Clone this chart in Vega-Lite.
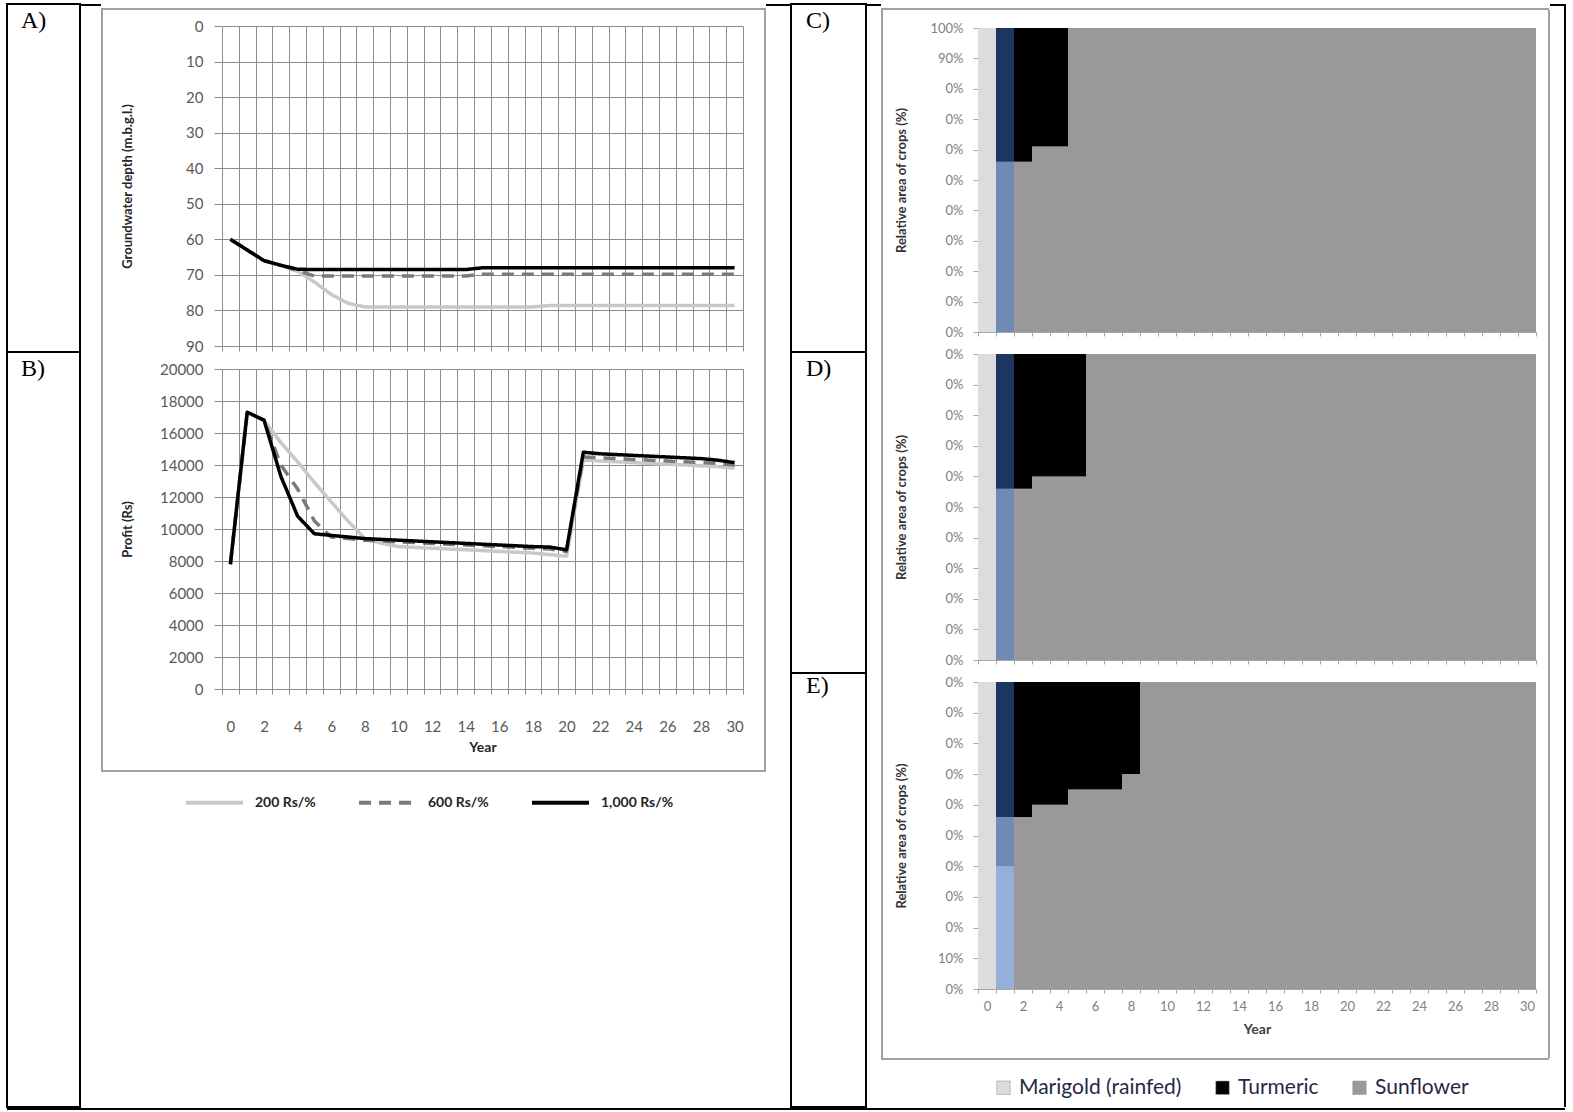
{
  "$schema": "https://vega.github.io/schema/vega-lite/v6.json",
  "padding": {"left": 6, "top": 3, "right": 0, "bottom": 0},
  "background": "white",
  "config": {
    "view": {"stroke": null},
    "font": "Lato",
    "axis": {"labelFont": "Lato", "titleFont": "Lato"},
    "legend": {"labelFont": "Lato"}
  },
  "datasets": {
    "empty": [],
    "hl": [{"Year": 1}],
    "lines": [
      {"Year":0,"Scenario":"200 Rs/%","Depth":60,"Profit":7800},
      {"Year":1,"Scenario":"200 Rs/%","Depth":63,"Profit":17300},
      {"Year":2,"Scenario":"200 Rs/%","Depth":66,"Profit":16800},
      {"Year":3,"Scenario":"200 Rs/%","Depth":67.3,"Profit":15400},
      {"Year":4,"Scenario":"200 Rs/%","Depth":69,"Profit":14200},
      {"Year":5,"Scenario":"200 Rs/%","Depth":72,"Profit":12900},
      {"Year":6,"Scenario":"200 Rs/%","Depth":75.5,"Profit":11700},
      {"Year":7,"Scenario":"200 Rs/%","Depth":78,"Profit":10500},
      {"Year":8,"Scenario":"200 Rs/%","Depth":79,"Profit":9400},
      {"Year":9,"Scenario":"200 Rs/%","Depth":79,"Profit":9100},
      {"Year":10,"Scenario":"200 Rs/%","Depth":79,"Profit":8900},
      {"Year":11,"Scenario":"200 Rs/%","Depth":79,"Profit":8850},
      {"Year":12,"Scenario":"200 Rs/%","Depth":79,"Profit":8800},
      {"Year":13,"Scenario":"200 Rs/%","Depth":79,"Profit":8750},
      {"Year":14,"Scenario":"200 Rs/%","Depth":79,"Profit":8700},
      {"Year":15,"Scenario":"200 Rs/%","Depth":79,"Profit":8650},
      {"Year":16,"Scenario":"200 Rs/%","Depth":79,"Profit":8600},
      {"Year":17,"Scenario":"200 Rs/%","Depth":79,"Profit":8550},
      {"Year":18,"Scenario":"200 Rs/%","Depth":79,"Profit":8500},
      {"Year":19,"Scenario":"200 Rs/%","Depth":78.6,"Profit":8400},
      {"Year":20,"Scenario":"200 Rs/%","Depth":78.6,"Profit":8300},
      {"Year":21,"Scenario":"200 Rs/%","Depth":78.6,"Profit":14300},
      {"Year":22,"Scenario":"200 Rs/%","Depth":78.6,"Profit":14250},
      {"Year":23,"Scenario":"200 Rs/%","Depth":78.6,"Profit":14200},
      {"Year":24,"Scenario":"200 Rs/%","Depth":78.6,"Profit":14150},
      {"Year":25,"Scenario":"200 Rs/%","Depth":78.6,"Profit":14100},
      {"Year":26,"Scenario":"200 Rs/%","Depth":78.6,"Profit":14050},
      {"Year":27,"Scenario":"200 Rs/%","Depth":78.6,"Profit":14000},
      {"Year":28,"Scenario":"200 Rs/%","Depth":78.6,"Profit":13950},
      {"Year":29,"Scenario":"200 Rs/%","Depth":78.6,"Profit":13900},
      {"Year":30,"Scenario":"200 Rs/%","Depth":78.6,"Profit":13800},
      {"Year":0,"Scenario":"600 Rs/%","Depth":60,"Profit":7800},
      {"Year":1,"Scenario":"600 Rs/%","Depth":63,"Profit":17300},
      {"Year":2,"Scenario":"600 Rs/%","Depth":66,"Profit":16800},
      {"Year":3,"Scenario":"600 Rs/%","Depth":67.3,"Profit":14000},
      {"Year":4,"Scenario":"600 Rs/%","Depth":68.8,"Profit":12500},
      {"Year":5,"Scenario":"600 Rs/%","Depth":70.3,"Profit":10500},
      {"Year":6,"Scenario":"600 Rs/%","Depth":70.3,"Profit":9500},
      {"Year":7,"Scenario":"600 Rs/%","Depth":70.3,"Profit":9400},
      {"Year":8,"Scenario":"600 Rs/%","Depth":70.3,"Profit":9300},
      {"Year":9,"Scenario":"600 Rs/%","Depth":70.3,"Profit":9250},
      {"Year":10,"Scenario":"600 Rs/%","Depth":70.3,"Profit":9200},
      {"Year":11,"Scenario":"600 Rs/%","Depth":70.3,"Profit":9150},
      {"Year":12,"Scenario":"600 Rs/%","Depth":70.3,"Profit":9100},
      {"Year":13,"Scenario":"600 Rs/%","Depth":70.3,"Profit":9050},
      {"Year":14,"Scenario":"600 Rs/%","Depth":70.3,"Profit":9000},
      {"Year":15,"Scenario":"600 Rs/%","Depth":69.8,"Profit":8950},
      {"Year":16,"Scenario":"600 Rs/%","Depth":69.8,"Profit":8900},
      {"Year":17,"Scenario":"600 Rs/%","Depth":69.8,"Profit":8850},
      {"Year":18,"Scenario":"600 Rs/%","Depth":69.8,"Profit":8800},
      {"Year":19,"Scenario":"600 Rs/%","Depth":69.8,"Profit":8750},
      {"Year":20,"Scenario":"600 Rs/%","Depth":69.8,"Profit":8600},
      {"Year":21,"Scenario":"600 Rs/%","Depth":69.8,"Profit":14500},
      {"Year":22,"Scenario":"600 Rs/%","Depth":69.8,"Profit":14450},
      {"Year":23,"Scenario":"600 Rs/%","Depth":69.8,"Profit":14400},
      {"Year":24,"Scenario":"600 Rs/%","Depth":69.8,"Profit":14350},
      {"Year":25,"Scenario":"600 Rs/%","Depth":69.8,"Profit":14300},
      {"Year":26,"Scenario":"600 Rs/%","Depth":69.8,"Profit":14250},
      {"Year":27,"Scenario":"600 Rs/%","Depth":69.8,"Profit":14200},
      {"Year":28,"Scenario":"600 Rs/%","Depth":69.8,"Profit":14150},
      {"Year":29,"Scenario":"600 Rs/%","Depth":69.8,"Profit":14100},
      {"Year":30,"Scenario":"600 Rs/%","Depth":69.8,"Profit":14000},
      {"Year":0,"Scenario":"1,000 Rs/%","Depth":60,"Profit":7800},
      {"Year":1,"Scenario":"1,000 Rs/%","Depth":63,"Profit":17300},
      {"Year":2,"Scenario":"1,000 Rs/%","Depth":66,"Profit":16800},
      {"Year":3,"Scenario":"1,000 Rs/%","Depth":67.3,"Profit":13300},
      {"Year":4,"Scenario":"1,000 Rs/%","Depth":68.4,"Profit":10800},
      {"Year":5,"Scenario":"1,000 Rs/%","Depth":68.5,"Profit":9700},
      {"Year":6,"Scenario":"1,000 Rs/%","Depth":68.5,"Profit":9600},
      {"Year":7,"Scenario":"1,000 Rs/%","Depth":68.5,"Profit":9500},
      {"Year":8,"Scenario":"1,000 Rs/%","Depth":68.5,"Profit":9400},
      {"Year":9,"Scenario":"1,000 Rs/%","Depth":68.5,"Profit":9350},
      {"Year":10,"Scenario":"1,000 Rs/%","Depth":68.5,"Profit":9300},
      {"Year":11,"Scenario":"1,000 Rs/%","Depth":68.5,"Profit":9250},
      {"Year":12,"Scenario":"1,000 Rs/%","Depth":68.5,"Profit":9200},
      {"Year":13,"Scenario":"1,000 Rs/%","Depth":68.5,"Profit":9150},
      {"Year":14,"Scenario":"1,000 Rs/%","Depth":68.5,"Profit":9100},
      {"Year":15,"Scenario":"1,000 Rs/%","Depth":68,"Profit":9050},
      {"Year":16,"Scenario":"1,000 Rs/%","Depth":68,"Profit":9000},
      {"Year":17,"Scenario":"1,000 Rs/%","Depth":68,"Profit":8950},
      {"Year":18,"Scenario":"1,000 Rs/%","Depth":68,"Profit":8900},
      {"Year":19,"Scenario":"1,000 Rs/%","Depth":68,"Profit":8870},
      {"Year":20,"Scenario":"1,000 Rs/%","Depth":68,"Profit":8700},
      {"Year":21,"Scenario":"1,000 Rs/%","Depth":68,"Profit":14800},
      {"Year":22,"Scenario":"1,000 Rs/%","Depth":68,"Profit":14700},
      {"Year":23,"Scenario":"1,000 Rs/%","Depth":68,"Profit":14650},
      {"Year":24,"Scenario":"1,000 Rs/%","Depth":68,"Profit":14600},
      {"Year":25,"Scenario":"1,000 Rs/%","Depth":68,"Profit":14550},
      {"Year":26,"Scenario":"1,000 Rs/%","Depth":68,"Profit":14500},
      {"Year":27,"Scenario":"1,000 Rs/%","Depth":68,"Profit":14450},
      {"Year":28,"Scenario":"1,000 Rs/%","Depth":68,"Profit":14400},
      {"Year":29,"Scenario":"1,000 Rs/%","Depth":68,"Profit":14300},
      {"Year":30,"Scenario":"1,000 Rs/%","Depth":68,"Profit":14150}
    ],
    "cropsC": [
      {"Year":0,"Crop":"Marigold (rainfed)","Share":1},
      {"Year":1,"Crop":"Sunflower","Share":0.56},{"Year":1,"Crop":"Turmeric","Share":0.44},
      {"Year":2,"Crop":"Sunflower","Share":0.56},{"Year":2,"Crop":"Turmeric","Share":0.44},
      {"Year":3,"Crop":"Sunflower","Share":0.61},{"Year":3,"Crop":"Turmeric","Share":0.39},
      {"Year":4,"Crop":"Sunflower","Share":0.61},{"Year":4,"Crop":"Turmeric","Share":0.39},
      {"Year":5,"Crop":"Sunflower","Share":1},{"Year":6,"Crop":"Sunflower","Share":1},
      {"Year":7,"Crop":"Sunflower","Share":1},{"Year":8,"Crop":"Sunflower","Share":1},
      {"Year":9,"Crop":"Sunflower","Share":1},{"Year":10,"Crop":"Sunflower","Share":1},
      {"Year":11,"Crop":"Sunflower","Share":1},{"Year":12,"Crop":"Sunflower","Share":1},
      {"Year":13,"Crop":"Sunflower","Share":1},{"Year":14,"Crop":"Sunflower","Share":1},
      {"Year":15,"Crop":"Sunflower","Share":1},{"Year":16,"Crop":"Sunflower","Share":1},
      {"Year":17,"Crop":"Sunflower","Share":1},{"Year":18,"Crop":"Sunflower","Share":1},
      {"Year":19,"Crop":"Sunflower","Share":1},{"Year":20,"Crop":"Sunflower","Share":1},
      {"Year":21,"Crop":"Sunflower","Share":1},{"Year":22,"Crop":"Sunflower","Share":1},
      {"Year":23,"Crop":"Sunflower","Share":1},{"Year":24,"Crop":"Sunflower","Share":1},
      {"Year":25,"Crop":"Sunflower","Share":1},{"Year":26,"Crop":"Sunflower","Share":1},
      {"Year":27,"Crop":"Sunflower","Share":1},{"Year":28,"Crop":"Sunflower","Share":1},
      {"Year":29,"Crop":"Sunflower","Share":1},{"Year":30,"Crop":"Sunflower","Share":1}
    ],
    "cropsD": [
      {"Year":0,"Crop":"Marigold (rainfed)","Share":1},
      {"Year":1,"Crop":"Sunflower","Share":0.56},{"Year":1,"Crop":"Turmeric","Share":0.44},
      {"Year":2,"Crop":"Sunflower","Share":0.56},{"Year":2,"Crop":"Turmeric","Share":0.44},
      {"Year":3,"Crop":"Sunflower","Share":0.6},{"Year":3,"Crop":"Turmeric","Share":0.4},
      {"Year":4,"Crop":"Sunflower","Share":0.6},{"Year":4,"Crop":"Turmeric","Share":0.4},
      {"Year":5,"Crop":"Sunflower","Share":0.6},{"Year":5,"Crop":"Turmeric","Share":0.4},
      {"Year":6,"Crop":"Sunflower","Share":1},
      {"Year":7,"Crop":"Sunflower","Share":1},{"Year":8,"Crop":"Sunflower","Share":1},
      {"Year":9,"Crop":"Sunflower","Share":1},{"Year":10,"Crop":"Sunflower","Share":1},
      {"Year":11,"Crop":"Sunflower","Share":1},{"Year":12,"Crop":"Sunflower","Share":1},
      {"Year":13,"Crop":"Sunflower","Share":1},{"Year":14,"Crop":"Sunflower","Share":1},
      {"Year":15,"Crop":"Sunflower","Share":1},{"Year":16,"Crop":"Sunflower","Share":1},
      {"Year":17,"Crop":"Sunflower","Share":1},{"Year":18,"Crop":"Sunflower","Share":1},
      {"Year":19,"Crop":"Sunflower","Share":1},{"Year":20,"Crop":"Sunflower","Share":1},
      {"Year":21,"Crop":"Sunflower","Share":1},{"Year":22,"Crop":"Sunflower","Share":1},
      {"Year":23,"Crop":"Sunflower","Share":1},{"Year":24,"Crop":"Sunflower","Share":1},
      {"Year":25,"Crop":"Sunflower","Share":1},{"Year":26,"Crop":"Sunflower","Share":1},
      {"Year":27,"Crop":"Sunflower","Share":1},{"Year":28,"Crop":"Sunflower","Share":1},
      {"Year":29,"Crop":"Sunflower","Share":1},{"Year":30,"Crop":"Sunflower","Share":1}
    ],
    "cropsE": [
      {"Year":0,"Crop":"Marigold (rainfed)","Share":1},
      {"Year":1,"Crop":"Marigold (rainfed)","Share":0.4},{"Year":1,"Crop":"Sunflower","Share":0.16},{"Year":1,"Crop":"Turmeric","Share":0.44},
      {"Year":2,"Crop":"Sunflower","Share":0.56},{"Year":2,"Crop":"Turmeric","Share":0.44},
      {"Year":3,"Crop":"Sunflower","Share":0.6},{"Year":3,"Crop":"Turmeric","Share":0.4},
      {"Year":4,"Crop":"Sunflower","Share":0.6},{"Year":4,"Crop":"Turmeric","Share":0.4},
      {"Year":5,"Crop":"Sunflower","Share":0.65},{"Year":5,"Crop":"Turmeric","Share":0.35},
      {"Year":6,"Crop":"Sunflower","Share":0.65},{"Year":6,"Crop":"Turmeric","Share":0.35},
      {"Year":7,"Crop":"Sunflower","Share":0.65},{"Year":7,"Crop":"Turmeric","Share":0.35},
      {"Year":8,"Crop":"Sunflower","Share":0.7},{"Year":8,"Crop":"Turmeric","Share":0.3},
      {"Year":9,"Crop":"Sunflower","Share":1},{"Year":10,"Crop":"Sunflower","Share":1},
      {"Year":11,"Crop":"Sunflower","Share":1},{"Year":12,"Crop":"Sunflower","Share":1},
      {"Year":13,"Crop":"Sunflower","Share":1},{"Year":14,"Crop":"Sunflower","Share":1},
      {"Year":15,"Crop":"Sunflower","Share":1},{"Year":16,"Crop":"Sunflower","Share":1},
      {"Year":17,"Crop":"Sunflower","Share":1},{"Year":18,"Crop":"Sunflower","Share":1},
      {"Year":19,"Crop":"Sunflower","Share":1},{"Year":20,"Crop":"Sunflower","Share":1},
      {"Year":21,"Crop":"Sunflower","Share":1},{"Year":22,"Crop":"Sunflower","Share":1},
      {"Year":23,"Crop":"Sunflower","Share":1},{"Year":24,"Crop":"Sunflower","Share":1},
      {"Year":25,"Crop":"Sunflower","Share":1},{"Year":26,"Crop":"Sunflower","Share":1},
      {"Year":27,"Crop":"Sunflower","Share":1},{"Year":28,"Crop":"Sunflower","Share":1},
      {"Year":29,"Crop":"Sunflower","Share":1},{"Year":30,"Crop":"Sunflower","Share":1}
    ]
  },
  "vconcat": [
    {
      "hconcat": [
        {
          "vconcat": [
            {"width": 73, "height": 348, "view": {"stroke": "#000000", "strokeWidth": 2}, "data": {"name": "empty"}, "mark": "text",
             "title": {"text": "A)", "anchor": "start", "frame": "group", "orient": "top", "offset": -48, "dx": 14, "baseline": "alphabetic", "font": "Liberation Serif", "fontSize": 24, "fontWeight": "normal", "color": "#000000"}},
            {"width": 73, "height": 755, "view": {"stroke": "#000000", "strokeWidth": 2}, "data": {"name": "empty"}, "mark": "text",
             "title": {"text": "B)", "anchor": "start", "frame": "group", "orient": "top", "offset": -48, "dx": 14, "baseline": "alphabetic", "font": "Liberation Serif", "fontSize": 24, "fontWeight": "normal", "color": "#000000"}}
          ],
          "spacing": 0, "bounds": "flush"
        },
        {"width": 20, "height": 2, "view": {"fill": "#000000"}, "data": {"name": "empty"}, "mark": "text"},
        {
          "vconcat": [
            {"width": 665, "height": 4, "data": {"name": "empty"}, "mark": "text"},
            {"width": 665, "height": 2, "view": {"fill": "#a0a0a0"}, "data": {"name": "empty"}, "mark": "text"},
            {
              "hconcat": [
                {"width": 2, "height": 760, "view": {"fill": "#a0a0a0"}, "data": {"name": "empty"}, "mark": "text"},
                {"width": 18, "height": 2, "data": {"name": "empty"}, "mark": "text"},
                {
                  "vconcat": [
                    {"width": 521, "height": 1, "data": {"name": "empty"}, "mark": "text"},
                    {
                      "width": 521, "height": 320,
                      "data": {"name": "lines"},
                      "mark": {"type": "line", "strokeWidth": 3.5, "strokeJoin": "round"},
                      "encoding": {
                        "x": {"field": "Year", "type": "quantitative", "scale": {"domain": [-0.5, 30.5], "nice": false, "zero": false},
                          "axis": {"values": [-0.5,0,0.5,1,1.5,2,2.5,3,3.5,4,4.5,5,5.5,6,6.5,7,7.5,8,8.5,9,9.5,10,10.5,11,11.5,12,12.5,13,13.5,14,14.5,15,15.5,16,16.5,17,17.5,18,18.5,19,19.5,20,20.5,21,21.5,22,22.5,23,23.5,24,24.5,25,25.5,26,26.5,27,27.5,28,28.5,29,29.5,30,30.5],
                            "labels": false, "title": null, "domain": false, "grid": true, "gridColor": "#8c8c8c",
                            "gridOpacity": {"condition": {"test": "datum.value % 1 !== 0", "value": 1}, "value": 0},
                            "ticks": true, "tickSize": 5, "tickColor": "#8c8c8c",
                            "tickOpacity": {"condition": {"test": "datum.value % 1 !== 0", "value": 1}, "value": 0}}},
                        "y": {"field": "Depth", "type": "quantitative", "scale": {"domain": [0, 90], "reverse": true, "nice": false, "zero": false},
                          "axis": {"values": [0,10,20,30,40,50,60,70,80,90], "format": "d", "title": "Groundwater depth (m.b.g.l.)",
                            "grid": true, "gridColor": "#8c8c8c", "domain": false, "ticks": true, "tickSize": 8, "tickColor": "#8c8c8c",
                            "labelPadding": 11, "labelFontSize": 15, "labelColor": "#595959", "labelOverlap": false,
                            "minExtent": 60, "maxExtent": 60, "titlePadding": 28, "titleFontSize": 13, "titleFontWeight": "bold", "titleColor": "#262626"}},
                        "color": {"field": "Scenario", "type": "nominal", "scale": {"domain": ["200 Rs/%", "600 Rs/%", "1,000 Rs/%"], "range": ["#c8c8c8", "#7a7a7a", "#000000"]}, "legend": null},
                        "strokeDash": {"field": "Scenario", "type": "nominal", "scale": {"domain": ["200 Rs/%", "600 Rs/%", "1,000 Rs/%"], "range": [[1,0],[12,8],[1,0]]}, "legend": null}
                      }
                    },
                    {
                      "width": 521, "height": 320,
                      "data": {"name": "lines"},
                      "mark": {"type": "line", "strokeWidth": 3.5, "strokeJoin": "round"},
                      "encoding": {
                        "x": {"field": "Year", "type": "quantitative", "scale": {"domain": [-0.5, 30.5], "nice": false, "zero": false},
                          "axis": {"values": [-0.5,0,0.5,1,1.5,2,2.5,3,3.5,4,4.5,5,5.5,6,6.5,7,7.5,8,8.5,9,9.5,10,10.5,11,11.5,12,12.5,13,13.5,14,14.5,15,15.5,16,16.5,17,17.5,18,18.5,19,19.5,20,20.5,21,21.5,22,22.5,23,23.5,24,24.5,25,25.5,26,26.5,27,27.5,28,28.5,29,29.5,30,30.5],
                            "labelExpr": "datum.value % 2 === 0 ? format(datum.value, 'd') : ''", "labelOverlap": false, "labelFlush": false,
                            "labelPadding": 25, "labelFontSize": 15, "labelColor": "#595959",
                            "title": "Year", "titleFontSize": 14, "titleFontWeight": "bold", "titleColor": "#262626", "titlePadding": 6,
                            "domain": false, "grid": true, "gridColor": "#8c8c8c",
                            "gridOpacity": {"condition": {"test": "datum.value % 1 !== 0", "value": 1}, "value": 0},
                            "ticks": true, "tickSize": 5, "tickColor": "#8c8c8c",
                            "tickOpacity": {"condition": {"test": "datum.value % 1 !== 0", "value": 1}, "value": 0}}},
                        "y": {"field": "Profit", "type": "quantitative", "scale": {"domain": [0, 20000], "nice": false},
                          "axis": {"values": [0,2000,4000,6000,8000,10000,12000,14000,16000,18000,20000], "format": "d", "title": "Profit (Rs)",
                            "grid": true, "gridColor": "#8c8c8c", "domain": false, "ticks": true, "tickSize": 8, "tickColor": "#8c8c8c",
                            "labelPadding": 11, "labelFontSize": 15, "labelColor": "#595959", "labelOverlap": false,
                            "minExtent": 60, "maxExtent": 60, "titlePadding": 28, "titleFontSize": 13, "titleFontWeight": "bold", "titleColor": "#262626"}},
                        "color": {"field": "Scenario", "type": "nominal", "scale": {"domain": ["200 Rs/%", "600 Rs/%", "1,000 Rs/%"], "range": ["#c8c8c8", "#7a7a7a", "#000000"]}, "legend": null},
                        "strokeDash": {"field": "Scenario", "type": "nominal", "scale": {"domain": ["200 Rs/%", "600 Rs/%", "1,000 Rs/%"], "range": [[1,0],[12,8],[1,0]]}, "legend": null}
                      }
                    }
                  ],
                  "spacing": 8,
                  "resolve": {"scale": {"color": "independent", "strokeDash": "independent"}}
                },
                {"width": 20, "height": 2, "data": {"name": "empty"}, "mark": "text"},
                {"width": 2, "height": 760, "view": {"fill": "#a0a0a0"}, "data": {"name": "empty"}, "mark": "text"}
              ],
              "spacing": 0,
              "resolve": {"scale": {"color": "independent", "strokeDash": "independent"}}
            },
            {
              "width": 665, "height": 2, "view": {"fill": "#a0a0a0"},
              "data": {"name": "empty"},
              "mark": {"type": "line", "strokeWidth": 3.5},
              "encoding": {
                "x": {"field": "Year", "type": "quantitative", "axis": null},
                "y": {"field": "Profit", "type": "quantitative", "axis": null},
                "color": {"field": "Scenario", "type": "nominal", "scale": {"domain": ["200 Rs/%", "600 Rs/%", "1,000 Rs/%"], "range": ["#c8c8c8", "#7a7a7a", "#000000"]},
                  "legend": {"orient": "none", "legendX": 83, "legendY": 2, "direction": "horizontal", "title": null, "symbolType": "stroke", "symbolSize": 3249, "symbolStrokeWidth": 4, "labelFontSize": 14, "labelFontWeight": "bold", "labelColor": "#262626", "columnPadding": 35, "labelOffset": 10}},
                "strokeDash": {"field": "Scenario", "type": "nominal", "scale": {"domain": ["200 Rs/%", "600 Rs/%", "1,000 Rs/%"], "range": [[1,0],[12,8],[1,0]]},
                  "legend": {"orient": "none", "legendX": 83, "legendY": 2, "direction": "horizontal", "title": null, "symbolType": "stroke", "symbolSize": 3249, "symbolStrokeWidth": 4, "labelFontSize": 14, "labelFontWeight": "bold", "labelColor": "#262626", "columnPadding": 35, "labelOffset": 10}}
              }
            }
          ],
          "spacing": 0,
          "resolve": {"scale": {"color": "independent", "strokeDash": "independent"}}
        },
        {"width": 24, "height": 2, "view": {"fill": "#000000"}, "data": {"name": "empty"}, "mark": "text"},
        {
          "vconcat": [
            {"width": 75, "height": 348, "view": {"stroke": "#000000", "strokeWidth": 2}, "data": {"name": "empty"}, "mark": "text",
             "title": {"text": "C)", "anchor": "start", "frame": "group", "orient": "top", "offset": -48, "dx": 15, "baseline": "alphabetic", "font": "Liberation Serif", "fontSize": 24, "fontWeight": "normal", "color": "#000000"}},
            {"width": 75, "height": 321, "view": {"stroke": "#000000", "strokeWidth": 2}, "data": {"name": "empty"}, "mark": "text",
             "title": {"text": "D)", "anchor": "start", "frame": "group", "orient": "top", "offset": -48, "dx": 15, "baseline": "alphabetic", "font": "Liberation Serif", "fontSize": 24, "fontWeight": "normal", "color": "#000000"}},
            {"width": 75, "height": 434, "view": {"stroke": "#000000", "strokeWidth": 2}, "data": {"name": "empty"}, "mark": "text",
             "title": {"text": "E)", "anchor": "start", "frame": "group", "orient": "top", "offset": -44, "dx": 15, "baseline": "alphabetic", "font": "Liberation Serif", "fontSize": 24, "fontWeight": "normal", "color": "#000000"}}
          ],
          "spacing": 0, "bounds": "flush"
        },
        {"width": 14, "height": 2, "view": {"fill": "#000000"}, "data": {"name": "empty"}, "mark": "text"},
        {
          "vconcat": [
            {"width": 668, "height": 4, "data": {"name": "empty"}, "mark": "text"},
            {"width": 668, "height": 2, "view": {"fill": "#a0a0a0"}, "data": {"name": "empty"}, "mark": "text"},
            {
              "hconcat": [
                {"width": 2, "height": 1048, "view": {"fill": "#a0a0a0"}, "data": {"name": "empty"}, "mark": "text"},
                {"width": 12, "height": 2, "data": {"name": "empty"}, "mark": "text"},
                {
                  "vconcat": [
                    {"width": 558, "height": 3, "data": {"name": "empty"}, "mark": "text"},
                    {
                      "width": 558, "height": 304,
                      "layer": [
                        {"data": {"name": "cropsC"}, "mark": {"type": "bar"},
                         "encoding": {
                           "x": {"field": "Year", "type": "ordinal", "scale": {"paddingInner": 0, "paddingOuter": 0},
                             "axis": {"labels": false, "title": null, "ticks": true, "tickBand": "extent", "tickSize": 4, "tickColor": "#a6a6a6", "domain": true, "domainColor": "#a6a6a6", "grid": false}},
                           "y": {"field": "Share", "type": "quantitative", "stack": "zero", "scale": {"domain": [0, 1], "nice": false},
                             "axis": {"values": [0,0.1,0.2,0.3,0.4,0.5,0.6,0.7,0.8,0.9,1], "labelExpr": "datum.value >= 0.85 ? format(datum.value, '.0%') : '0%'", "labelOverlap": false,
                               "title": "Relative area of crops (%)", "grid": false, "domain": true, "domainColor": "#a6a6a6", "ticks": true, "tickSize": 5, "tickColor": "#a6a6a6",
                               "labelPadding": 10, "labelFontSize": 13, "labelColor": "#7f7f7f", "minExtent": 50, "maxExtent": 50, "titlePadding": 20, "titleFontSize": 13, "titleFontWeight": "bold", "titleColor": "#333333"}},
                           "color": {"field": "Crop", "type": "nominal", "scale": {"domain": ["Marigold (rainfed)", "Turmeric", "Sunflower"], "range": ["#dcdcdc", "#000000", "#999999"]}, "legend": null},
                           "order": {"field": "Crop", "type": "nominal", "sort": "ascending"}
                         }},
                        {"data": {"name": "hl"}, "mark": {"type": "bar", "fill": "#3d78d8", "opacity": 0.45},
                         "encoding": {
                           "x": {"field": "Year", "type": "ordinal"},
                           "y": {"datum": 0, "type": "quantitative",
                             "axis": {"values": [0,0.1,0.2,0.3,0.4,0.5,0.6,0.7,0.8,0.9,1], "labelExpr": "datum.value >= 0.85 ? format(datum.value, '.0%') : '0%'", "labelOverlap": false,
                               "title": "Relative area of crops (%)", "grid": false, "domain": true, "domainColor": "#a6a6a6", "ticks": true, "tickSize": 5, "tickColor": "#a6a6a6",
                               "labelPadding": 10, "labelFontSize": 13, "labelColor": "#7f7f7f", "minExtent": 50, "maxExtent": 50, "titlePadding": 20, "titleFontSize": 13, "titleFontWeight": "bold", "titleColor": "#333333"}},
                           "y2": {"datum": 1}}}
                      ]
                    },
                    {
                      "width": 558, "height": 306,
                      "layer": [
                        {"data": {"name": "cropsD"}, "mark": {"type": "bar"},
                         "encoding": {
                           "x": {"field": "Year", "type": "ordinal", "scale": {"paddingInner": 0, "paddingOuter": 0},
                             "axis": {"labels": false, "title": null, "ticks": true, "tickBand": "extent", "tickSize": 4, "tickColor": "#a6a6a6", "domain": true, "domainColor": "#a6a6a6", "grid": false}},
                           "y": {"field": "Share", "type": "quantitative", "stack": "zero", "scale": {"domain": [0, 1], "nice": false},
                             "axis": {"values": [0,0.1,0.2,0.3,0.4,0.5,0.6,0.7,0.8,0.9,1], "labelExpr": "'0%'", "labelOverlap": false,
                               "title": "Relative area of crops (%)", "grid": false, "domain": true, "domainColor": "#a6a6a6", "ticks": true, "tickSize": 5, "tickColor": "#a6a6a6",
                               "labelPadding": 10, "labelFontSize": 13, "labelColor": "#7f7f7f", "minExtent": 50, "maxExtent": 50, "titlePadding": 20, "titleFontSize": 13, "titleFontWeight": "bold", "titleColor": "#333333"}},
                           "color": {"field": "Crop", "type": "nominal", "scale": {"domain": ["Marigold (rainfed)", "Turmeric", "Sunflower"], "range": ["#dcdcdc", "#000000", "#999999"]}, "legend": null},
                           "order": {"field": "Crop", "type": "nominal", "sort": "ascending"}
                         }},
                        {"data": {"name": "hl"}, "mark": {"type": "bar", "fill": "#3d78d8", "opacity": 0.45},
                         "encoding": {
                           "x": {"field": "Year", "type": "ordinal"},
                           "y": {"datum": 0, "type": "quantitative",
                             "axis": {"values": [0,0.1,0.2,0.3,0.4,0.5,0.6,0.7,0.8,0.9,1], "labelExpr": "'0%'", "labelOverlap": false,
                               "title": "Relative area of crops (%)", "grid": false, "domain": true, "domainColor": "#a6a6a6", "ticks": true, "tickSize": 5, "tickColor": "#a6a6a6",
                               "labelPadding": 10, "labelFontSize": 13, "labelColor": "#7f7f7f", "minExtent": 50, "maxExtent": 50, "titlePadding": 20, "titleFontSize": 13, "titleFontWeight": "bold", "titleColor": "#333333"}},
                           "y2": {"datum": 1}}}
                      ]
                    },
                    {
                      "width": 558, "height": 307,
                      "layer": [
                        {"data": {"name": "cropsE"}, "mark": {"type": "bar"},
                         "encoding": {
                           "x": {"field": "Year", "type": "ordinal", "scale": {"paddingInner": 0, "paddingOuter": 0},
                             "axis": {"labelExpr": "datum.value % 2 === 0 ? datum.label : ''", "labelAngle": 0, "labelOverlap": false, "labelPadding": 7, "labelFontSize": 13, "labelColor": "#7f7f7f",
                               "title": "Year", "titleFontSize": 14, "titleFontWeight": "bold", "titleColor": "#404040", "titlePadding": 9,
                               "ticks": true, "tickBand": "extent", "tickSize": 4, "tickColor": "#a6a6a6", "domain": true, "domainColor": "#a6a6a6", "grid": false}},
                           "y": {"field": "Share", "type": "quantitative", "stack": "zero", "scale": {"domain": [0, 1], "nice": false},
                             "axis": {"values": [0,0.1,0.2,0.3,0.4,0.5,0.6,0.7,0.8,0.9,1], "labelExpr": "abs(datum.value - 0.1) < 0.01 ? '10%' : '0%'", "labelOverlap": false,
                               "title": "Relative area of crops (%)", "grid": false, "domain": true, "domainColor": "#a6a6a6", "ticks": true, "tickSize": 5, "tickColor": "#a6a6a6",
                               "labelPadding": 10, "labelFontSize": 13, "labelColor": "#7f7f7f", "minExtent": 50, "maxExtent": 50, "titlePadding": 20, "titleFontSize": 13, "titleFontWeight": "bold", "titleColor": "#333333"}},
                           "color": {"field": "Crop", "type": "nominal", "scale": {"domain": ["Marigold (rainfed)", "Turmeric", "Sunflower"], "range": ["#dcdcdc", "#000000", "#999999"]}, "legend": null},
                           "order": {"field": "Crop", "type": "nominal", "sort": "ascending"}
                         }},
                        {"data": {"name": "hl"}, "mark": {"type": "bar", "fill": "#3d78d8", "opacity": 0.45},
                         "encoding": {
                           "x": {"field": "Year", "type": "ordinal"},
                           "y": {"datum": 0, "type": "quantitative",
                             "axis": {"values": [0,0.1,0.2,0.3,0.4,0.5,0.6,0.7,0.8,0.9,1], "labelExpr": "abs(datum.value - 0.1) < 0.01 ? '10%' : '0%'", "labelOverlap": false,
                               "title": "Relative area of crops (%)", "grid": false, "domain": true, "domainColor": "#a6a6a6", "ticks": true, "tickSize": 5, "tickColor": "#a6a6a6",
                               "labelPadding": 10, "labelFontSize": 13, "labelColor": "#7f7f7f", "minExtent": 50, "maxExtent": 50, "titlePadding": 20, "titleFontSize": 13, "titleFontWeight": "bold", "titleColor": "#333333"}},
                           "y2": {"datum": 1}}}
                      ]
                    }
                  ],
                  "spacing": 9,
                  "resolve": {"scale": {"color": "independent"}}
                },
                {"width": 11, "height": 2, "data": {"name": "empty"}, "mark": "text"},
                {"width": 2, "height": 1048, "view": {"fill": "#a0a0a0"}, "data": {"name": "empty"}, "mark": "text"}
              ],
              "spacing": 0,
              "resolve": {"scale": {"color": "independent"}}
            },
            {
              "width": 668, "height": 2, "view": {"fill": "#a0a0a0"},
              "data": {"name": "empty"},
              "mark": {"type": "square"},
              "encoding": {
                "color": {"field": "Crop", "type": "nominal", "scale": {"domain": ["Marigold (rainfed)", "Turmeric", "Sunflower"], "range": ["#dcdcdc", "#000000", "#999999"]},
                  "legend": {"orient": "none", "legendX": 112, "legendY": 19, "direction": "horizontal", "title": null, "symbolType": "square", "symbolSize": 180, "symbolStrokeColor": "#8c8c8c", "symbolStrokeWidth": 0.5, "symbolOpacity": 1, "labelFontSize": 21, "labelLimit": 400, "labelColor": "#1f2a44", "columnPadding": 30, "labelOffset": 5}}
              }
            }
          ],
          "spacing": 0,
          "resolve": {"scale": {"color": "independent"}}
        },
        {"width": 14, "height": 2, "view": {"fill": "#000000"}, "data": {"name": "empty"}, "mark": "text"},
        {"width": 2, "height": 1103, "view": {"fill": "#000000"}, "data": {"name": "empty"}, "mark": "text"}
      ],
      "spacing": 0,
      "resolve": {"scale": {"color": "independent", "strokeDash": "independent"}}
    },
    {"width": 1558, "height": 2, "view": {"fill": "#000000"}, "data": {"name": "empty"}, "mark": "text"}
  ],
  "spacing": 0
}
